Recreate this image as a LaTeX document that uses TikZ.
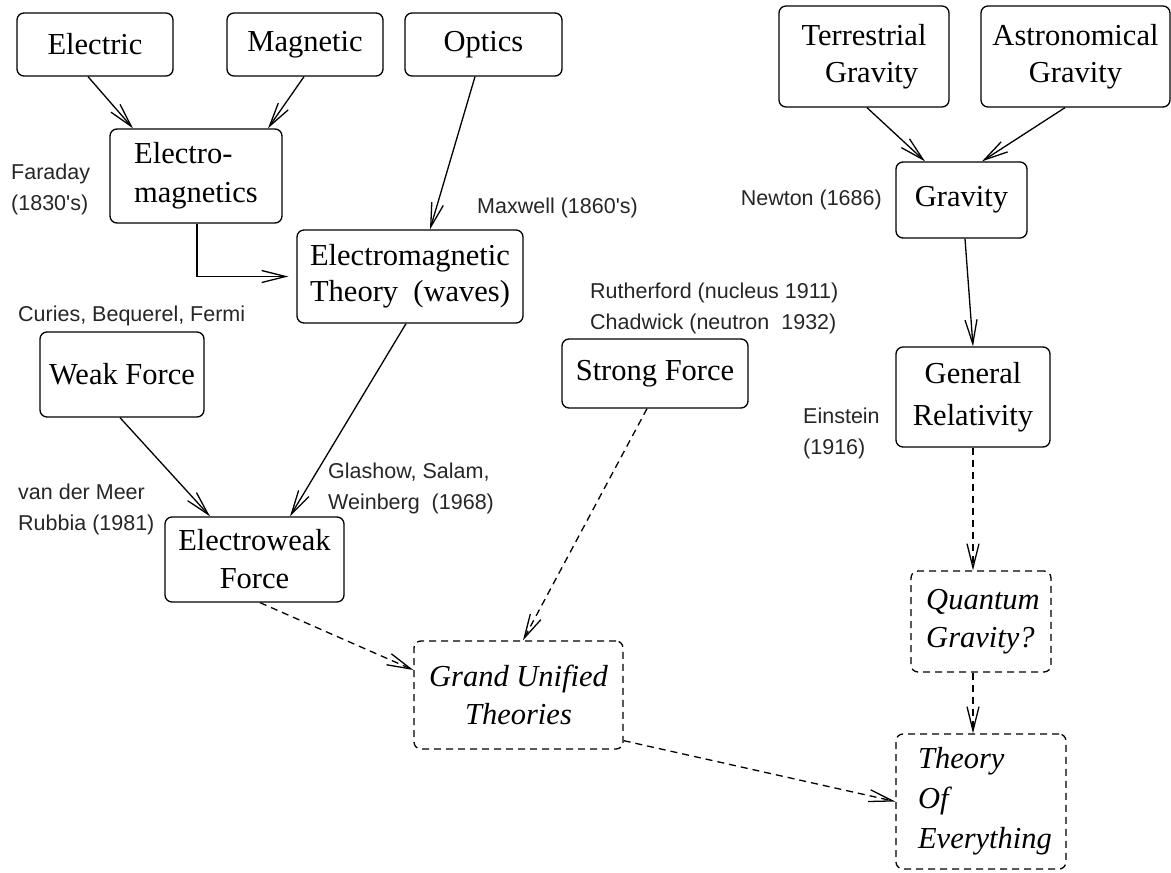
\documentclass[tikz,border=0pt]{standalone}
\usepackage{fontspec}
\setmainfont{Liberation Serif}
\newfontfamily\labfont{Liberation Sans}
\usetikzlibrary{arrows.meta}
\begin{document}
\begin{tikzpicture}[x=1pt,y=-1pt,
  box/.style={draw, rounded corners=7pt, line width=1.3pt, inner sep=0pt, align=center,
    font=\fontsize{30.5}{38}\selectfont},
  dbox/.style={box, dash pattern=on 7pt off 5pt, font=\fontsize{30.5}{38}\selectfont\itshape},
  lab/.style={anchor=west, inner sep=0pt, align=left, font=\labfont\fontsize{21.5}{31}\selectfont, text=black!85},
  conn/.style={line width=1.3pt, -{Straight Barb[length=24pt,width=12pt,line width=1.3pt]}},
  dconn/.style={conn, dash pattern=on 7pt off 5pt}]
\useasboundingbox (0,0) rectangle (1171,873);
% boxes
\node[box, minimum width=156pt, minimum height=63pt] (elec) at (95,44.5) {Electric};
\node[box, minimum width=156pt, minimum height=63pt] (mag) at (305,44.5) {Magnetic};
\node[box, minimum width=157pt, minimum height=63pt] (opt) at (483.5,44.5) {Optics};
\node[box, minimum width=172pt, minimum height=94pt, align=left, font=\fontsize{30.5}{39}\selectfont] (em) at (196,176) {Electro-\hspace{10pt}\\magnetics\hspace{10pt}};
\node[box, minimum width=226pt, minimum height=93pt, font=\fontsize{30.5}{36}\selectfont] (emt) at (410,276.5) {Electromagnetic\\Theory\ \ (waves)};
\node[box, minimum width=164pt, minimum height=85pt] (weak) at (122,374.5) {Weak Force};
\node[box, minimum width=179pt, minimum height=85pt] (ew) at (254.5,559.5) {Electroweak\\Force};
\node[box, minimum width=186pt, minimum height=69pt] (strong) at (655,373.5) {Strong Force};
\node[dbox, minimum width=209pt, minimum height=108pt] (gut) at (518.5,695) {Grand Unified\\Theories};
\node[box, minimum width=170pt, minimum height=101pt, font=\fontsize{30.5}{37}\selectfont] (terr) at (864,56.5) {Terrestrial\\\ \ Gravity};
\node[box, minimum width=189pt, minimum height=101pt, font=\fontsize{30.5}{37}\selectfont] (astr) at (1075.5,56.5) {Astronomical\\Gravity};
\node[box, minimum width=131pt, minimum height=76pt] (grav) at (961.5,200) {Gravity};
\node[box, minimum width=154pt, minimum height=100pt, font=\fontsize{30.5}{42}\selectfont] (gr) at (973,397) {General\\Relativity};
\node[dbox, minimum width=140pt, minimum height=101pt, align=left] (qg) at (981,621.5) {\hspace{4pt}Quantum\\\hspace{4pt}Gravity?};
\node[dbox, minimum width=170pt, minimum height=135pt, align=left, font=\fontsize{30.5}{40}\selectfont\itshape] (toe) at (981,801.5) {\hspace{8pt}Theory\\\hspace{8pt}Of\\\hspace{8pt}Everything};
% labels
\node[lab] (faraday) at (11,189) {Faraday\\(1830's)};
\node[lab] (maxwell) at (477,208) {Maxwell (1860's)};
\node[lab] (curies) at (18,316) {Curies, Bequerel, Fermi};
\node[lab] (ruth) at (590,308.5) {Rutherford (nucleus 1911)\\Chadwick (neutron\ \ 1932)};
\node[lab] (glashow) at (328,488) {Glashow, Salam,\\Weinberg\ \ (1968)};
\node[lab] (vdm) at (18,509) {van der Meer\\Rubbia (1981)};
\node[lab, anchor=east] (newton) at (882,200) {Newton (1686)};
\node[lab] (einstein) at (803,433) {Einstein\\(1916)};
% connectors
\draw[conn] ([xshift=-7pt]elec.south) -- ([xshift=-63pt]em.north);
\draw[conn] ([xshift=-1pt]mag.south) -- ([xshift=72pt]em.north);
\draw[conn] ([xshift=-8.5pt]opt.south) -- ([xshift=20pt]emt.north);
\draw[conn, shorten >=8pt] ([xshift=1pt]em.south) |- (emt.west);
\draw[conn] ([xshift=-2pt]weak.south) -- ([xshift=-44.5pt]ew.north);
\draw[conn] ([xshift=-4pt]emt.south) -- ([xshift=35.5pt]ew.north);
\draw[dconn] ([xshift=5.5pt]ew.south) -- ([yshift=25pt]gut.west);
\draw[dconn] ([xshift=-8pt]strong.south) -- ([xshift=4.5pt]gut.north);
\draw[dconn] ([yshift=9pt]gut.south east) -- (toe.west);
\draw[conn] ([xshift=3pt]terr.south) -- ([xshift=-36.5pt]grav.north);
\draw[conn] ([xshift=-10.5pt]astr.south) -- ([xshift=20.5pt]grav.north);
\draw[conn] ([xshift=3.5pt]grav.south) -- (gr.north);
\draw[dconn] (gr.south) -- ([xshift=-8pt]qg.north);
\draw[dconn] ([xshift=-8pt]qg.south) -- ([xshift=-8pt]toe.north);
\end{tikzpicture}
\end{document}
